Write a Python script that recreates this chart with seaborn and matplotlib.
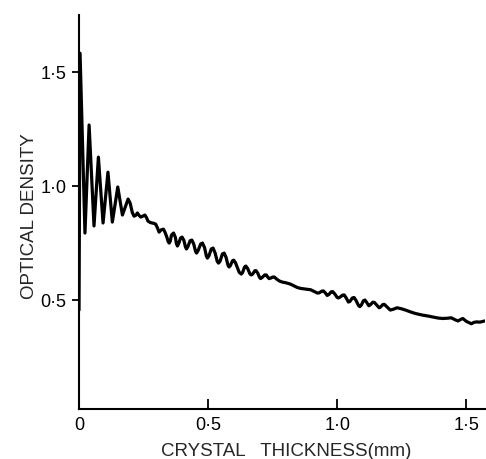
import pandas as pd
import matplotlib
matplotlib.use("Agg")
import matplotlib.pyplot as plt
import seaborn as sns

# values (mm, optical density)
thickness = [0.000, 0.004, 0.023, 0.039, 0.058, 0.075, 0.093, 0.112, 0.129, 0.150,
             0.168, 0.190, 0.198, 0.206, 0.213, 0.220, 0.226, 0.232, 0.239, 0.247,
             0.255, 0.261, 0.267, 0.276, 0.284, 0.291, 0.297, 0.303, 0.310, 0.318,
             0.327, 0.333, 0.340, 0.345, 0.349, 0.353, 0.358, 0.366, 0.373, 0.377,
             0.381, 0.386, 0.393, 0.399, 0.406, 0.412, 0.416, 0.421, 0.430, 0.437,
             0.444, 0.451, 0.455, 0.461, 0.471, 0.478, 0.486, 0.493, 0.497, 0.503,
             0.512, 0.519, 0.527, 0.535, 0.540, 0.546, 0.555, 0.562, 0.569, 0.577,
             0.581, 0.586, 0.594, 0.599, 0.606, 0.620, 0.628, 0.633, 0.641, 0.646,
             0.653, 0.662, 0.667, 0.673, 0.680, 0.685, 0.692, 0.699, 0.703, 0.710,
             0.719, 0.725, 0.731, 0.736, 0.744, 0.750, 0.756, 0.765, 0.775, 0.786,
             0.800, 0.818, 0.832, 0.845, 0.858, 0.871, 0.884, 0.897, 0.910, 0.922,
             0.929, 0.940, 0.946, 0.953, 0.961, 0.968, 0.976, 0.982, 0.990, 0.999,
             1.004, 1.012, 1.021, 1.027, 1.035, 1.043, 1.049, 1.058, 1.065, 1.073,
             1.082, 1.087, 1.093, 1.101, 1.107, 1.114, 1.122, 1.129, 1.137, 1.143,
             1.151, 1.162, 1.168, 1.176, 1.182, 1.192, 1.205, 1.218, 1.231, 1.247,
             1.264, 1.283, 1.302, 1.329, 1.350, 1.368, 1.390, 1.407, 1.425, 1.441,
             1.455, 1.467, 1.478, 1.486, 1.500, 1.519, 1.529, 1.539, 1.552, 1.570]
density = [0.456, 1.583, 0.794, 1.268, 0.825, 1.127, 0.838, 1.061, 0.842, 0.996,
           0.873, 0.943, 0.925, 0.885, 0.868, 0.872, 0.882, 0.872, 0.864, 0.868,
           0.873, 0.862, 0.846, 0.840, 0.838, 0.836, 0.833, 0.818, 0.798, 0.808,
           0.811, 0.797, 0.776, 0.757, 0.750, 0.758, 0.785, 0.794, 0.775, 0.748,
           0.737, 0.748, 0.772, 0.776, 0.762, 0.733, 0.724, 0.733, 0.760, 0.763,
           0.746, 0.714, 0.706, 0.717, 0.746, 0.750, 0.730, 0.693, 0.684, 0.694,
           0.724, 0.728, 0.706, 0.670, 0.662, 0.670, 0.702, 0.706, 0.688, 0.652,
           0.645, 0.651, 0.672, 0.675, 0.663, 0.622, 0.614, 0.620, 0.645, 0.649,
           0.638, 0.614, 0.610, 0.615, 0.628, 0.629, 0.618, 0.599, 0.594, 0.600,
           0.610, 0.610, 0.600, 0.594, 0.597, 0.601, 0.601, 0.592, 0.584, 0.579,
           0.576, 0.570, 0.562, 0.555, 0.551, 0.549, 0.547, 0.545, 0.538, 0.531,
           0.531, 0.539, 0.540, 0.532, 0.520, 0.525, 0.536, 0.537, 0.527, 0.512,
           0.509, 0.514, 0.522, 0.522, 0.508, 0.491, 0.494, 0.509, 0.511, 0.497,
           0.476, 0.471, 0.478, 0.497, 0.500, 0.489, 0.475, 0.480, 0.490, 0.490,
           0.480, 0.466, 0.470, 0.480, 0.481, 0.470, 0.456, 0.460, 0.466, 0.462,
           0.456, 0.448, 0.441, 0.434, 0.430, 0.426, 0.421, 0.419, 0.420, 0.422,
           0.414, 0.408, 0.415, 0.419, 0.406, 0.396, 0.402, 0.404, 0.403, 0.408]

x_ticks = [0, 0.5, 1.0, 1.5]
x_ticklabels = ['0', '0·5', '1·0', '1·5']
y_ticks = [0.5, 1.0, 1.5]
y_ticklabels = ['0·5', '1·0', '1·5']

df = pd.DataFrame({'thickness': thickness, 'density': density})

sns.set_style('white')
plt.rcParams['font.family'] = ['Liberation Sans', 'DejaVu Sans']

fig = plt.figure(figsize=(4.86, 4.59), dpi=100)
ax = fig.add_axes([0.1626, 0.109, 0.836, 0.858])

sns.lineplot(data=df, x='thickness', y='density', estimator=None, sort=False,
             color='black', linewidth=2.3, solid_joinstyle='round', ax=ax)

ax.set_xlim(0, 1.573)
ax.set_ylim(0.022, 1.75)

ax.set_xticks(x_ticks)
ax.set_xticklabels(x_ticklabels)
ax.set_yticks(y_ticks)
ax.set_yticklabels(y_ticklabels)

for side in ['top', 'right']:
    ax.spines[side].set_visible(False)
for side in ['left', 'bottom']:
    ax.spines[side].set_color('black')
    ax.spines[side].set_linewidth(1.5)

ax.tick_params(axis='x', direction='in', length=7, width=1.3, pad=6,
               labelsize=13, colors='black', bottom=True)
ax.tick_params(axis='y', direction='out', length=5, width=1.3, pad=4,
               labelsize=13, colors='black', left=True)

ax.set_xlabel('CRYSTAL   THICKNESS(mm)', fontsize=13.5)
ax.set_ylabel('OPTICAL DENSITY', fontsize=13.5)
ax.xaxis.set_label_coords(0.51, -0.086)
ax.yaxis.set_label_coords(-0.102, 0.49)

fig.savefig('out.png', dpi=100, facecolor='white')
